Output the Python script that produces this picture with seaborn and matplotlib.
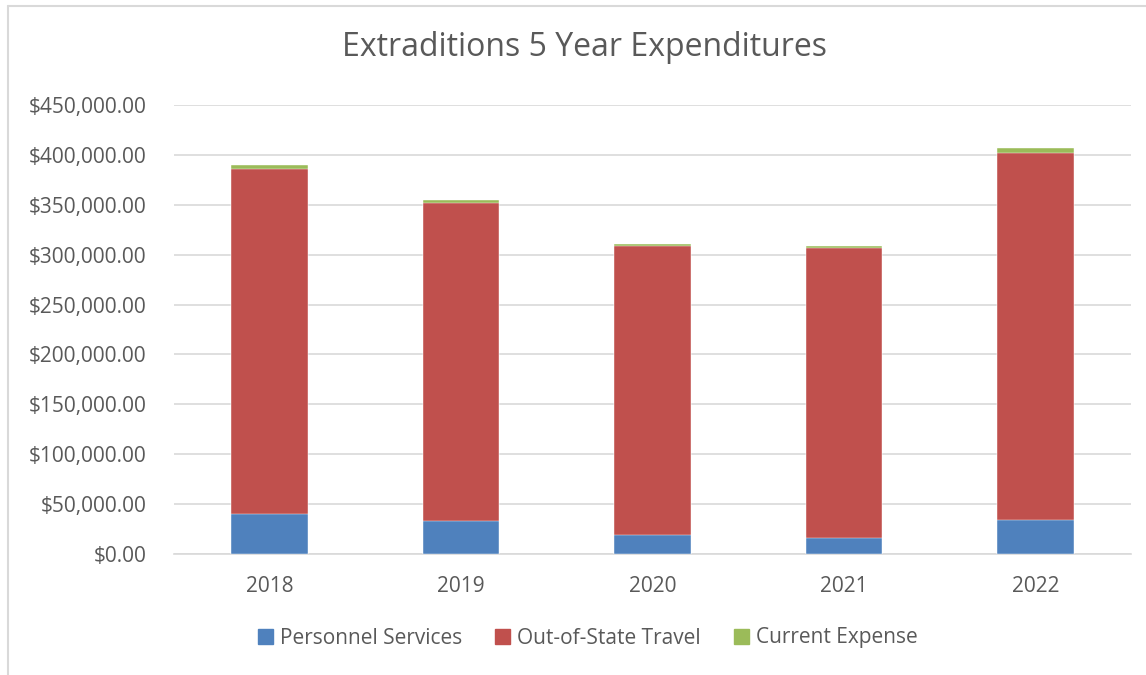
import matplotlib
matplotlib.use("Agg")
import matplotlib.pyplot as plt
import matplotlib.patches as mpatches
import matplotlib.lines as mlines
import seaborn as sns
import pandas as pd
import numpy as np

years = ["2018", "2019", "2020", "2021", "2022"]
personnel = [40000, 33000, 19000, 16300, 33700]
travel = [345700, 318300, 289300, 290400, 368600]
current = [4000, 3700, 2400, 2300, 4700]
series_names = ["Personnel Services", "Out-of-State Travel", "Current Expense"]
colors = ["#4f81bd", "#c0504d", "#9bbb59"]

sns.set_theme(style="white")
plt.rcParams['font.family'] = ['Open Sans', 'DejaVu Sans']

p = np.array(personnel)
t = np.array(travel)
c = np.array(current)
df = pd.DataFrame({
    "year": years,
    "level1": p,
    "level2": p + t,
    "level3": p + t + c,
})

W, H = 1146, 675
fig = plt.figure(figsize=(W / 100, H / 100), dpi=100)
ax = fig.add_axes([174 / W, 1 - 554 / H, (1131 - 174) / W, (554 - 105) / H])

w = 0.40
sns.barplot(data=df, x="year", y="level3", color=colors[2], width=w, ax=ax, saturation=1, zorder=2)
sns.barplot(data=df, x="year", y="level2", color=colors[1], width=w, ax=ax, saturation=1, zorder=3)
sns.barplot(data=df, x="year", y="level1", color=colors[0], width=w, ax=ax, saturation=1, zorder=4)
for patch in ax.patches:
    patch.set_edgecolor("white")
    patch.set_linewidth(0.3)

ax.set_ylim(0, 450000)
ax.set_xlim(-0.5, 4.5)
ticks = np.arange(0, 450001, 50000)
ax.set_yticks(ticks)
ax.set_yticklabels([f"${v:,.2f}" for v in ticks])
ax.yaxis.grid(True, color="#d9d9d9", linewidth=1.2, zorder=0)
ax.set_axisbelow(True)
for s in ["top", "right", "left"]:
    ax.spines[s].set_visible(False)
ax.spines["bottom"].set_color("#d9d9d9")
ax.spines["bottom"].set_linewidth(1.2)
ax.set_xlabel("")
ax.set_ylabel("")
ax.tick_params(axis="both", length=0, labelsize=15, colors="#595959")
ax.tick_params(axis="y", pad=20)
ax.tick_params(axis="x", pad=16)

fig.text(585 / W, 1 - 48 / H, "Extraditions 5 Year Expenditures", ha="center", va="center",
         fontsize=23, color="#595959")

handles = [mpatches.Patch(color=col, label=n) for col, n in zip(colors, series_names)]
fig.legend(handles=handles, loc="center", bbox_to_anchor=(588 / W, 1 - 638 / H), ncol=3,
           frameon=False, fontsize=15, handlelength=0.7, handleheight=0.7,
           columnspacing=1.6, handletextpad=0.35, labelcolor="#595959")

# chart area border (top and left edges visible)
fig.add_artist(mlines.Line2D([8 / W, 1], [1 - 6 / H, 1 - 6 / H], transform=fig.transFigure,
                             color="#d9d9d9", linewidth=1.5))
fig.add_artist(mlines.Line2D([8 / W, 8 / W], [0, 1 - 6 / H], transform=fig.transFigure,
                             color="#d9d9d9", linewidth=1.5))

fig.savefig("out.png", dpi=100, facecolor="white")
